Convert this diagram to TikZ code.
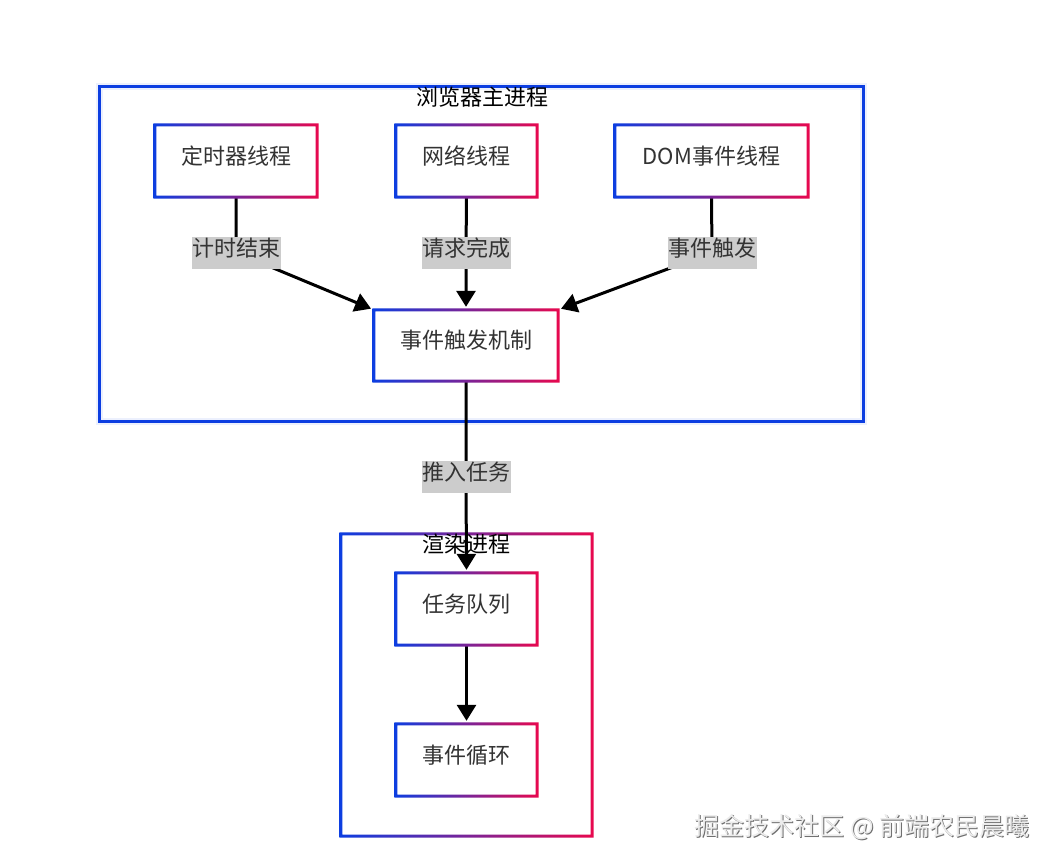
\documentclass[tikz,border=0pt]{standalone}
\usepackage{fontspec}
\setmainfont{Noto Sans CJK SC}
\usetikzlibrary{arrows.meta,calc}
\definecolor{cblue}{RGB}{12,62,225}
\definecolor{cred}{RGB}{232,8,78}
\definecolor{ctext}{RGB}{51,51,51}
\definecolor{lblbg}{RGB}{204,204,204}
\definecolor{wmfill}{RGB}{236,236,236}
\definecolor{wmshadow}{RGB}{110,110,110}
\pgfdeclarelayer{bg}
\pgfsetlayers{bg,main}
\newcommand\myfont[1]{\fontsize{#1}{#1}\selectfont}
\newcommand\gradring[2]{%
  \shade[left color=cblue,right color=cred,even odd rule]
    ([shift={(-#2,#2)}]#1.north west) rectangle ([shift={(#2,-#2)}]#1.south east)
    ([shift={(#2,-#2)}]#1.north west) rectangle ([shift={(-#2,#2)}]#1.south east);}
\tikzset{
  procbox/.style={inner sep=0pt, text height=39pt, text depth=33pt,
    font=\myfont{22pt}, text=ctext, minimum height=72pt},
  elabel/.style={fill=lblbg, inner xsep=0.5pt, inner ysep=0pt,
    text height=20pt, text depth=12pt, font=\myfont{22pt}, text=ctext},
  ptitle/.style={font=\myfont{22pt}, text=black, inner sep=0pt},
  conn/.style={line width=3pt, line join=round,
    -{Triangle[length=16pt,width=19pt]}, shorten >=3pt},
}
\begin{document}
\begin{tikzpicture}[x=1pt,y=-1pt]
\useasboundingbox (0,0) rectangle (1053,865);

% process nodes
\node[procbox, minimum width=162pt] (timer) at (236,161) {定时器线程};
\node[procbox, minimum width=141pt] (net) at (466.5,161) {网络线程};
\node[procbox, minimum width=193pt] (dom) at (711.5,161) {DOM事件线程};
\node[procbox, minimum width=184pt, text height=38.5pt, text depth=32.5pt, minimum height=71pt] (mech) at (466,345.5) {事件触发机制};
\node[procbox, minimum width=141pt] (queue) at (466.5,609) {任务队列};
\node[procbox, minimum width=141pt] (loop) at (466.5,760) {事件循环};
\foreach \n in {timer,net,dom,mech,queue,loop}{\gradring{\n}{1.5pt}}

% edge labels
\node[elabel] (l1) at (236,252.5) {计时结束};
\node[elabel] (l2) at (466,252.5) {请求完成};
\node[elabel] (l3) at (712,252.5) {事件触发};
\node[elabel] (l4) at (466,476.5) {推入任务};

% watermark
\node[font=\myfont{25pt}, text=wmshadow, inner sep=0pt] at ([shift={(1.3pt,-1.3pt)}]862,827) {掘金技术社区 @ 前端农民晨曦};
\node[font=\myfont{25pt}, text=wmfill, inner sep=0pt] (wm) at (862,827) {掘金技术社区 @ 前端农民晨曦};

\begin{pgfonlayer}{bg}
  \fill[white] (0,0) rectangle (1053,865);
  % browser main process box
  \node[draw=cblue!8, line width=7pt, minimum width=764pt, minimum height=335pt, inner sep=0pt] at (481,253.5) {};
  \node[draw=cblue, line width=3pt, minimum width=764pt, minimum height=335pt, inner sep=0pt] (browser) at (481,253.5) {};
  \node[ptitle] (btitle) at (482,97) {浏览器主进程};
  % render process box
  \node[minimum width=251pt, minimum height=302pt, inner sep=0pt] (render) at (466.5,685) {};
  \gradring{render}{1.5pt}
  \node[ptitle] (rtitle) at (466,544) {渲染进程};
  % connectors
  \draw[conn] (timer.south) -- (l1.center) -- (mech.north west);
  \draw[conn] (net.south) -- (l2.center) -- (mech.north);
  \draw[conn] (dom.south) -- (l3.center) -- (mech.north east);
  \draw[conn] (mech.south) -- (l4.center) -- (queue.north);
  \draw[conn] (queue.south) -- (loop.north);
\end{pgfonlayer}
\end{tikzpicture}
\end{document}
